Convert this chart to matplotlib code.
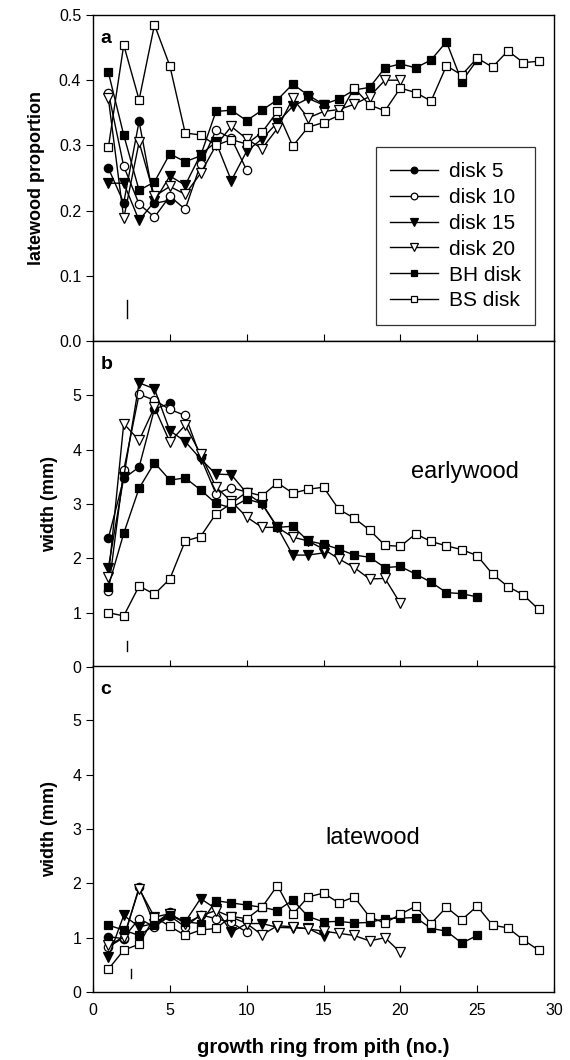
import matplotlib
matplotlib.use("Agg")
import matplotlib.pyplot as plt

plt.rcParams['font.family'] = ['Liberation Sans', 'DejaVu Sans']

# ---- data ----
series_names = ["disk 5", "disk 10", "disk 15", "disk 20", "BH disk", "BS disk"]
n_rings = [5, 10, 15, 20, 25, 29]

prop_disk5 = [0.265, 0.212, 0.337, 0.211, 0.216]
prop_disk10 = [0.381, 0.268, 0.210, 0.190, 0.222, 0.202, 0.271, 0.323, 0.311, 0.262]
prop_disk15 = [0.242, 0.242, 0.185, 0.214, 0.253, 0.239, 0.286, 0.305, 0.246, 0.291,
               0.310, 0.335, 0.360, 0.372, 0.362]
prop_disk20 = [0.372, 0.188, 0.305, 0.222, 0.237, 0.225, 0.257, 0.300, 0.329, 0.310,
               0.295, 0.326, 0.372, 0.342, 0.352, 0.355, 0.363, 0.375, 0.400, 0.400]
prop_bh = [0.412, 0.316, 0.231, 0.244, 0.287, 0.275, 0.284, 0.352, 0.354, 0.338,
           0.354, 0.370, 0.394, 0.377, 0.363, 0.371, 0.385, 0.389, 0.419, 0.425,
           0.419, 0.431, 0.459, 0.398, 0.431]
prop_bs = [0.297, 0.454, 0.370, 0.485, 0.422, 0.319, 0.316, 0.300, 0.309, 0.302,
           0.320, 0.352, 0.299, 0.328, 0.335, 0.346, 0.388, 0.362, 0.353, 0.388,
           0.381, 0.368, 0.422, 0.408, 0.434, 0.420, 0.445, 0.427, 0.429]

ew_disk5 = [2.37, 3.47, 3.68, 4.75, 4.85]
ew_disk10 = [1.40, 3.62, 5.02, 4.91, 4.74, 4.63, 3.86, 3.19, 3.30, 3.22]
ew_disk15 = [1.83, 3.49, 5.23, 5.12, 4.35, 4.15, 3.83, 3.55, 3.54, 3.20,
             3.00, 2.57, 2.06, 2.06, 2.10]
ew_disk20 = [1.65, 4.48, 4.17, 4.78, 4.14, 4.45, 3.92, 3.31, 3.05, 2.76,
             2.57, 2.57, 2.39, 2.32, 2.17, 1.99, 1.83, 1.62, 1.63, 1.17]
ew_bh = [1.48, 2.46, 3.29, 3.76, 3.44, 3.48, 3.26, 3.01, 2.93, 3.09,
         3.01, 2.57, 2.59, 2.32, 2.26, 2.17, 2.06, 2.02, 1.83, 1.85,
         1.71, 1.56, 1.37, 1.35, 1.29]
ew_bs = [1.00, 0.94, 1.49, 1.34, 1.62, 2.32, 2.40, 2.82, 3.01, 3.22,
         3.15, 3.39, 3.20, 3.27, 3.31, 2.90, 2.74, 2.52, 2.24, 2.22,
         2.45, 2.31, 2.23, 2.16, 2.05, 1.71, 1.48, 1.33, 1.06]

lw_disk5 = [1.02, 0.98, 1.93, 1.25, 1.47]
lw_disk10 = [0.83, 1.00, 1.35, 1.20, 1.40, 1.20, 1.42, 1.35, 1.28, 1.10]
lw_disk15 = [0.64, 1.41, 1.20, 1.26, 1.43, 1.29, 1.72, 1.53, 1.10, 1.26,
             1.26, 1.19, 1.18, 1.17, 1.03]
lw_disk20 = [0.86, 1.01, 1.90, 1.38, 1.44, 1.26, 1.40, 1.50, 1.38, 1.26,
             1.05, 1.22, 1.20, 1.16, 1.12, 1.08, 1.04, 0.94, 1.00, 0.73]
lw_bh = [1.23, 1.14, 1.04, 1.23, 1.41, 1.29, 1.26, 1.68, 1.64, 1.60,
         1.56, 1.50, 1.69, 1.39, 1.29, 1.30, 1.27, 1.28, 1.35, 1.36,
         1.37, 1.17, 1.12, 0.90, 1.04]
lw_bs = [0.42, 0.77, 0.88, 1.38, 1.21, 1.04, 1.14, 1.17, 1.39, 1.35,
         1.56, 1.96, 1.43, 1.75, 1.82, 1.64, 1.75, 1.38, 1.27, 1.43,
         1.58, 1.26, 1.56, 1.33, 1.58, 1.23, 1.18, 0.96, 0.77]

panel_data = [
    [prop_disk5, prop_disk10, prop_disk15, prop_disk20, prop_bh, prop_bs],
    [ew_disk5, ew_disk10, ew_disk15, ew_disk20, ew_bh, ew_bs],
    [lw_disk5, lw_disk10, lw_disk15, lw_disk20, lw_bh, lw_bs],
]
panel_letters = ["a", "b", "c"]
ylabels = ["latewood proportion", "width (mm)", "width (mm)"]
xticks = [0, 5, 10, 15, 20, 25, 30]
yticks_a = [0.0, 0.1, 0.2, 0.3, 0.4, 0.5]
yticks_bc = [0, 1, 2, 3, 4, 5]
marker_x = [2.2, 2.2, 2.45]  # small vertical reference marks
marker_y = [(0.035, 0.063), (0.30, 0.48), (0.25, 0.43)]

styles = [
    dict(marker='o', mfc='black', ms=6),
    dict(marker='o', mfc='white', ms=6),
    dict(marker='v', mfc='black', ms=6.5),
    dict(marker='v', mfc='white', ms=6.5),
    dict(marker='s', mfc='black', ms=5.5),
    dict(marker='s', mfc='white', ms=5.5),
]

fig = plt.figure(figsize=(5.7, 10.6), dpi=100)
left, width = 93 / 570, 461 / 570
h = 326 / 1060
bottoms = [1 - 341 / 1060, 1 - 667 / 1060, 1 - 992 / 1060]

axes = []
for i in range(3):
    ax = fig.add_axes([left, bottoms[i], width, h])
    axes.append(ax)
    for name, n, vals, st in zip(series_names, n_rings, panel_data[i], styles):
        xs = list(range(1, n + 1))
        ax.plot(xs, vals, color='black', lw=1.0, mec='black', mew=0.9,
                label=name, **st)
    ax.set_xlim(0, 30)
    if i == 0:
        ax.set_ylim(0, 0.5)
        ax.set_yticks(yticks_a)
        ax.set_yticklabels([f"{v:.1f}" for v in yticks_a])
    else:
        ax.set_ylim(0, 6)
        ax.set_yticks(yticks_bc)
    ax.set_xticks(xticks)
    ax.tick_params(axis='x', direction='in', length=5, width=0.8, labelsize=11.5,
                   top=False, pad=8)
    ax.tick_params(axis='y', direction='out', length=5, width=0.8, labelsize=11.5)
    if i < 2:
        ax.tick_params(axis='x', labelbottom=False)
    for sp in ax.spines.values():
        sp.set_linewidth(1.0)
    ax.set_ylabel(ylabels[i], fontsize=13, fontweight='bold', labelpad=10)
    ax.text(0.016, 0.955, panel_letters[i], transform=ax.transAxes, fontsize=14,
            fontweight='bold', va='top', ha='left')
    ax.plot([marker_x[i], marker_x[i]], marker_y[i], color='black', lw=1.0)

leg = axes[0].legend(loc='lower right', bbox_to_anchor=(0.959, 0.049), frameon=True,
                     fancybox=False, edgecolor='black', fontsize=15, numpoints=1,
                     handlelength=2.3, labelspacing=0.33, borderpad=0.7,
                     handletextpad=0.5, markerscale=0.8, borderaxespad=0.0)
leg.get_frame().set_linewidth(0.9)

axes[1].text(24.2, 3.58, "earlywood", fontsize=17, ha='center', va='center')
axes[2].text(18.2, 2.83, "latewood", fontsize=17, ha='center', va='center')

axes[2].set_xlabel("growth ring from pith (no.)", fontsize=14.5, fontweight='bold',
                   labelpad=14)

fig.savefig("out.png", dpi=100)
